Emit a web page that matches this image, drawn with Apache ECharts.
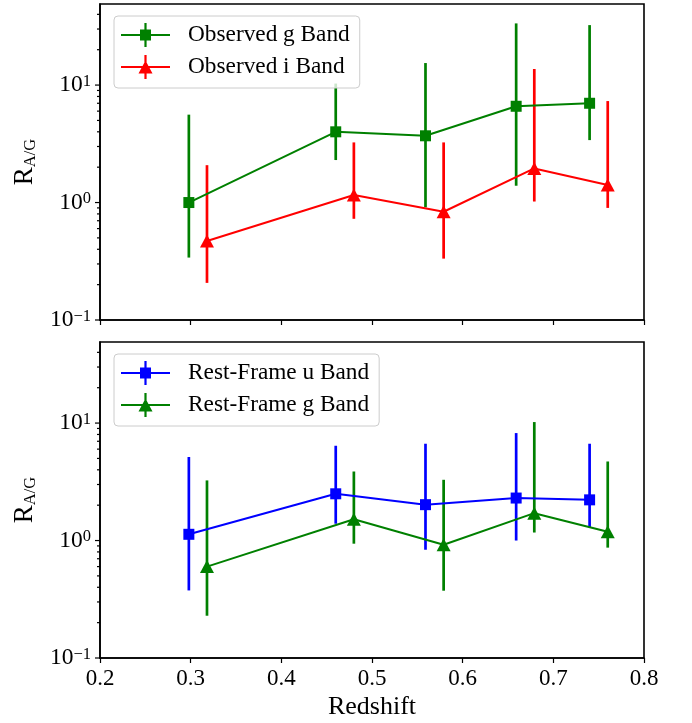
<!DOCTYPE html>
<html>
<head>
<meta charset="utf-8">
<script src="https://cdn.jsdelivr.net/npm/echarts@6/dist/echarts.min.js"></script>
<style>html,body{margin:0;padding:0;background:#fff;}#c{width:692px;height:723px;}</style>
</head>
<body>
<div id="c"></div>
<script>
// ---- data ----
const zObsG = [0.298, 0.460, 0.559, 0.659, 0.740];
const rObsG = [1.00, 4.00, 3.70, 6.60, 7.00];
const loObsG = [0.34, 2.30, 0.91, 1.39, 3.40];
const hiObsG = [5.6, 10.3, 15.4, 33.5, 32.4];

const zObsI = [0.318, 0.480, 0.579, 0.679, 0.760];
const rObsI = [0.47, 1.16, 0.835, 1.95, 1.41];
const loObsI = [0.207, 0.727, 0.333, 1.02, 0.90];
const hiObsI = [2.08, 3.25, 3.25, 13.7, 7.31];

const zRestU = [0.298, 0.460, 0.559, 0.659, 0.740];
const rRestU = [1.13, 2.50, 2.02, 2.30, 2.22];
const loRestU = [0.376, 1.39, 0.835, 1.00, 1.29];
const hiRestU = [5.14, 6.41, 6.67, 8.22, 6.67];

const zRestG = [0.318, 0.480, 0.579, 0.679, 0.760];
const rRestG = [0.60, 1.52, 0.92, 1.71, 1.19];
const loRestG = [0.229, 0.94, 0.374, 1.17, 0.87];
const hiRestG = [3.25, 3.87, 3.29, 10.2, 4.71];

const xTicks = [0.2, 0.3, 0.4, 0.5, 0.6, 0.7, 0.8];
const yMajorTicks = [0.1, 1, 10];
const yMinorTicks = [0.2,0.3,0.4,0.5,0.6,0.7,0.8,0.9,2,3,4,5,6,7,8,9,20,30,40];
const seriesNames = ['Observed g Band', 'Observed i Band', 'Rest-Frame u Band', 'Rest-Frame g Band'];

// ---- styling ----
const FONT = "'Liberation Serif', 'Times New Roman', serif";
const GREEN = '#008000', RED = '#ff0000', BLUE = '#0000ff';
const ICON_BASE = 'M0 12L49 12L49 14L0 14Z M23.4 1L25.6 1L25.6 25L23.4 25Z M62 13L62 13.01L61.99 13Z M0 0L0.01 0L0 0.01Z M0 26L0.01 26L0 25.99Z ';
const ICON_SQ = 'path://' + ICON_BASE + 'M19 7.5L30 7.5L30 18.5L19 18.5Z';
const ICON_TRI = 'path://' + ICON_BASE + 'M17.5 19.5L24.5 6.5L31.5 19.5Z';

function pairs(xs, ys) { return xs.map((x, i) => [x, ys[i]]); }
function triples(xs, lo, hi) { return xs.map((x, i) => [x, lo[i], hi[i]]); }

function errSeries(name, xs, lo, hi, color, idx) {
  return {
    type: 'custom', name: name, xAxisIndex: idx, yAxisIndex: idx,
    data: triples(xs, lo, hi),
    encode: { x: 0, y: [1, 2] },
    silent: true, z: 2,
    renderItem: function (params, api) {
      const a = api.coord([api.value(0), api.value(1)]);
      const b = api.coord([api.value(0), api.value(2)]);
      return { type: 'line', shape: { x1: a[0], y1: a[1], x2: b[0], y2: b[1] },
               style: { stroke: color, lineWidth: 2.7 } };
    }
  };
}
function lineSeries(name, xs, ys, color, symbol, size, idx) {
  return {
    type: 'line', name: name, xAxisIndex: idx, yAxisIndex: idx,
    data: pairs(xs, ys), symbol: symbol, symbolSize: size, showSymbol: true,
    itemStyle: { color: color }, lineStyle: { color: color, width: 2 },
    z: 3, animation: false
  };
}
function tickSeries(vals, len, idx) {
  return {
    type: 'custom', xAxisIndex: idx, yAxisIndex: idx, silent: true, z: 5,
    data: vals.map(v => [xTicks[0], v]), encode: { x: 0, y: 1 }, clip: false,
    renderItem: function (params, api) {
      const p = api.coord([api.value(0), api.value(1)]);
      return { type: 'line', shape: { x1: p[0] - len, y1: p[1], x2: p[0], y2: p[1] },
               style: { stroke: '#000', lineWidth: 1.2 } };
    }
  };
}

function yLabel(v) {
  const lg = Math.log10(v);
  const e = Math.round(lg);
  if (Math.abs(lg - e) > 1e-6) return '';
  return '{b|10}{s|' + (e < 0 ? '\u2212' : '') + Math.abs(e) + '}';
}

function xAxis(idx, showLabels) {
  return {
    type: 'value', gridIndex: idx, min: 0.2, max: 0.8, interval: 0.1,
    axisLine: { show: true, onZero: false, lineStyle: { color: '#000', width: 1.6 } },
    axisTick: { show: true, inside: false, length: 5, lineStyle: { color: '#000', width: 1.2 } },
    splitLine: { show: false },
    axisLabel: { show: showLabels, margin: 9, fontSize: 23, fontFamily: FONT, color: '#000',
                 formatter: v => v.toFixed(1) },
    name: showLabels ? 'Redshift' : '', nameLocation: 'middle', nameGap: 36,
    nameTextStyle: { fontSize: 26, fontFamily: FONT, color: '#000' }
  };
}
function yAxis(idx) {
  return {
    type: 'log', logBase: 10, gridIndex: idx, min: 0.1, max: 49,
    axisLine: { show: true, lineStyle: { color: '#000', width: 1.6 } },
    axisTick: { show: false },
    splitLine: { show: false }, minorTick: { show: false },
    axisLabel: { margin: 9, fontFamily: FONT, color: '#000', formatter: yLabel,
                 rich: { b: { fontSize: 23.5, fontFamily: FONT, color: '#000', lineHeight: 24 },
                         s: { fontSize: 16.5, fontFamily: FONT, color: '#000', lineHeight: 14, verticalAlign: 'top' } } },
    name: 'R{sub|A/G}', nameLocation: 'middle', nameGap: 53,
    nameTextStyle: { fontSize: 27, fontFamily: FONT, color: '#000', lineHeight: 28,
                     rich: { sub: { fontSize: 16.5, fontFamily: FONT, color: '#000', lineHeight: 16, verticalAlign: 'bottom' } } }
  };
}
function legend(top, names, icons) {
  return {
    left: 114, top: top, orient: 'vertical',
    data: names.map((n, i) => ({ name: n, icon: icons[i] })),
    itemWidth: 62, itemHeight: 26, itemGap: 6,
    padding: [6, 10, 8, 7],
    backgroundColor: 'rgba(255,255,255,0.8)', borderColor: '#cccccc', borderWidth: 1, borderRadius: 4,
    textStyle: { fontSize: 23.3, fontFamily: FONT, color: '#000' },
    selectedMode: false, inactiveColor: '#000'
  };
}

const chart = echarts.init(document.getElementById('c'), null, { renderer: 'canvas' });
chart.setOption({
  backgroundColor: '#fff',
  animation: false,
  grid: [
    { left: 100, top: 4, width: 544, height: 316, show: true, borderColor: '#000', borderWidth: 1.6, backgroundColor: 'transparent' },
    { left: 100, top: 342, width: 544, height: 316, show: true, borderColor: '#000', borderWidth: 1.6, backgroundColor: 'transparent' }
  ],
  xAxis: [xAxis(0, false), xAxis(1, true)],
  yAxis: [yAxis(0), yAxis(1)],
  legend: [
    legend(16, [seriesNames[0], seriesNames[1]], [ICON_SQ, ICON_TRI]),
    legend(354, [seriesNames[2], seriesNames[3]], [ICON_SQ, ICON_TRI])
  ],
  series: [
    tickSeries(yMajorTicks, 5, 0), tickSeries(yMinorTicks, 3, 0),
    tickSeries(yMajorTicks, 5, 1), tickSeries(yMinorTicks, 3, 1),
    errSeries('errObsG', zObsG, loObsG, hiObsG, GREEN, 0),
    lineSeries(seriesNames[0], zObsG, rObsG, GREEN, 'rect', 11, 0),
    errSeries('errObsI', zObsI, loObsI, hiObsI, RED, 0),
    lineSeries(seriesNames[1], zObsI, rObsI, RED, 'triangle', [14, 13], 0),
    errSeries('errRestU', zRestU, loRestU, hiRestU, BLUE, 1),
    lineSeries(seriesNames[2], zRestU, rRestU, BLUE, 'rect', 11, 1),
    errSeries('errRestG', zRestG, loRestG, hiRestG, GREEN, 1),
    lineSeries(seriesNames[3], zRestG, rRestG, GREEN, 'triangle', [14, 13], 1)
  ]
});
</script>
</body>
</html>
